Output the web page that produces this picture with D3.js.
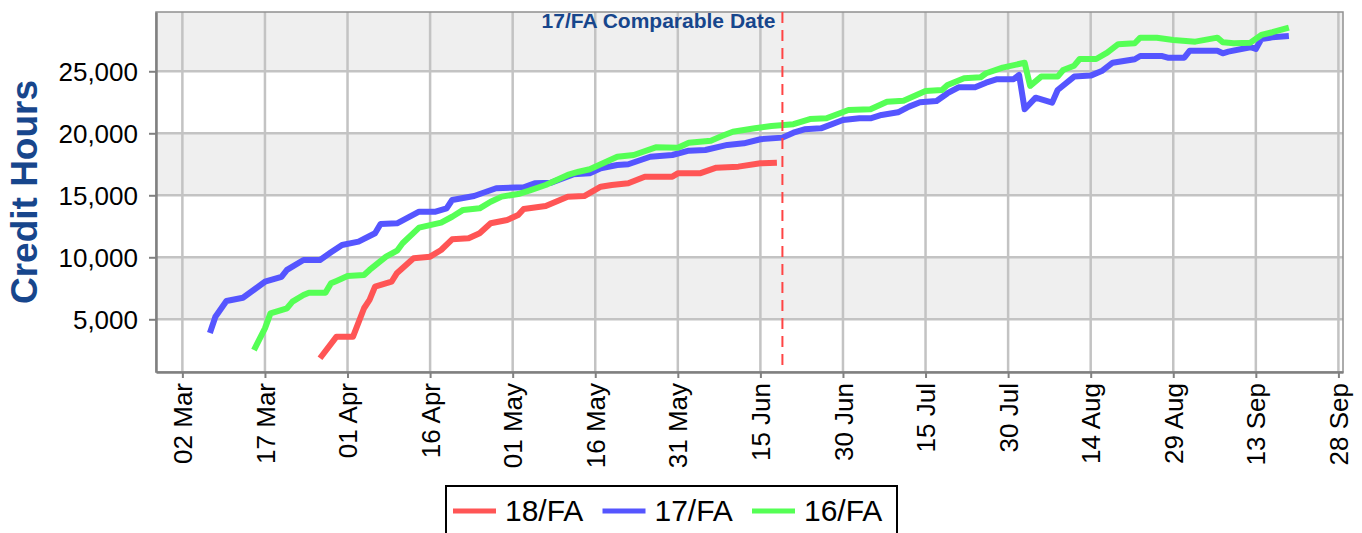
<!DOCTYPE html>
<html><head><meta charset="utf-8">
<script src="https://cdn.jsdelivr.net/npm/d3@7"></script>
<style>
html,body{margin:0;padding:0;background:#fff;}
svg{display:block;font-family:"Liberation Sans",Arial,sans-serif;}
</style></head>
<body><svg id="c" width="1362" height="533"></svg>
<script>
// ---- data ----
const seriesNames = ["18/FA", "17/FA", "16/FA"];
const seriesColors = ["#ff5555", "#5555ff", "#55ff55"];

const dates18 = ["03-27","03-30","04-02","04-04","04-05","04-06","04-09","04-10","04-13","04-16","04-18","04-20","04-23","04-25","04-27","04-30","05-02","05-03","05-07","05-11","05-14","05-17","05-19","05-22","05-25","05-30","05-31","06-04","06-07","06-11","06-15","06-18"];
const values18 = [1860,3600,3600,5890,6560,7630,8030,8740,9920,10050,10590,11450,11530,11940,12740,13010,13410,13900,14140,14890,14940,15690,15830,15970,16500,16500,16770,16770,17230,17310,17580,17630];

const dates17 = ["03-07","03-08","03-10","03-13","03-17","03-20","03-21","03-24","03-27","03-29","03-31","04-03","04-06","04-07","04-10","04-14","04-17","04-19","04-20","04-24","04-28","05-03","05-05","05-08","05-12","05-15","05-17","05-20","05-22","05-26","05-30","06-02","06-05","06-09","06-12","06-15","06-19","06-21","06-23","06-26","06-30","07-03","07-05","07-07","07-10","07-12","07-14","07-17","07-19","07-21","07-24","07-26","07-28","07-31","08-01","08-02","08-04","08-07","08-08","08-11","08-14","08-16","08-18","08-22","08-23","08-27","08-28","08-31","09-01","09-06","09-07","09-08","09-12","09-13","09-14","09-16","09-19"];
const values17 = [3900,5210,6480,6740,8030,8430,8980,9780,9780,10400,10990,11260,11940,12690,12740,13680,13680,13950,14620,14940,15570,15650,15970,16020,16690,16770,17180,17440,17500,18110,18250,18600,18650,19060,19190,19520,19650,20050,20320,20400,21070,21210,21210,21480,21690,22150,22500,22600,23230,23710,23710,24080,24360,24360,24700,21940,22870,22470,23490,24570,24650,25020,25690,25970,26230,26230,26100,26100,26660,26660,26450,26580,26940,26800,27600,27740,27850];

const dates16 = ["03-15","03-17","03-18","03-21","03-22","03-24","03-25","03-28","03-29","03-30","04-01","04-04","04-05","04-08","04-10","04-11","04-14","04-18","04-20","04-22","04-25","04-27","04-29","05-02","05-04","05-07","05-11","05-13","05-15","05-18","05-20","05-23","05-27","05-31","06-02","06-06","06-08","06-10","06-14","06-17","06-21","06-24","06-27","07-01","07-05","07-08","07-11","07-15","07-18","07-19","07-22","07-25","07-26","07-29","08-02","08-03","08-05","08-08","08-09","08-11","08-12","08-15","08-17","08-19","08-22","08-23","08-26","08-29","09-02","09-06","09-07","09-09","09-12","09-14","09-16","09-19"];
const values16 = [2520,4270,5480,5890,6420,6960,7150,7150,7900,8090,8490,8570,8980,10050,10530,11130,12390,12790,13270,13820,13950,14480,14890,15100,15370,15830,16640,16900,17100,17710,18110,18250,18870,18840,19240,19400,19780,20130,20400,20590,20730,21150,21210,21880,21940,22550,22630,23410,23490,23900,24440,24520,24840,25290,25690,23820,24570,24570,25100,25450,25990,25990,26500,27180,27260,27710,27710,27520,27390,27710,27340,27260,27310,27930,28150,28520];

const xTickDates = ["03-02","03-17","04-01","04-16","05-01","05-16","05-31","06-15","06-30","07-15","07-30","08-14","08-29","09-13","09-28"];
const yTickValues = [5000,10000,15000,20000,25000];
const comparableDate = "06-19";
const comparableLabel = "17/FA Comparable Date";
const yTitle = "Credit Hours";

// ---- layout ----
const W = 1362, H = 533;
const M = {left:156, top:12, right:19, bottom:161};
const pw = W - M.left - M.right, ph = H - M.top - M.bottom;
const parse = s => d3.timeParse("%Y-%m-%d %H:%M")("2018-" + s + (s.length === 5 ? " 00:00" : ""));
const pd = s => d3.timeParse("%Y-%m-%d")("2018-" + s);

const x = d3.scaleTime()
  .domain([parse("02-25 05:00"), parse("09-28 20:00")])
  .range([0, pw]);
const y = d3.scaleLinear().domain([750, 29780]).range([ph, 0]);

const svg = d3.select("#c");
const g = svg.append("g").attr("transform", `translate(${M.left},${M.top})`);

// alternating bands
const bandEdges = [y.domain()[0], ...yTickValues, y.domain()[1]];
for (let i = 0; i < bandEdges.length - 1; i++) {
  const grey = (bandEdges.length - 2 - i) % 2 === 0;
  if (!grey) continue;
  g.append("rect").attr("x", 0).attr("width", pw)
    .attr("y", y(bandEdges[i + 1])).attr("height", y(bandEdges[i]) - y(bandEdges[i + 1]))
    .attr("fill", "#efefef");
}

// grid
const xt = xTickDates.map(pd);
g.append("g").selectAll("line").data(xt).join("line")
  .attr("x1", d => x(d)).attr("x2", d => x(d)).attr("y1", 0).attr("y2", ph)
  .attr("stroke", "#c3c3c3").attr("stroke-width", 2.5);
g.append("g").selectAll("line").data(yTickValues).join("line")
  .attr("x1", 0).attr("x2", pw).attr("y1", d => y(d)).attr("y2", d => y(d))
  .attr("stroke", "#c3c3c3").attr("stroke-width", 2.5);

// frame (top/right)
g.append("rect").attr("x", 0).attr("y", 0).attr("width", pw).attr("height", ph)
  .attr("fill", "none").attr("stroke", "#909090").attr("stroke-width", 1.5);

// axes
const xAxis = d3.axisBottom(x).tickValues(xt).tickFormat(d3.timeFormat("%d %b")).tickSize(6).tickSizeOuter(0);
const gx = g.append("g").attr("transform", `translate(0,${ph})`).call(xAxis);
gx.select(".domain").attr("stroke", "#808080").attr("stroke-width", 2.5);
gx.selectAll(".tick line").attr("stroke", "#808080").attr("stroke-width", 2);
gx.selectAll(".tick text")
  .attr("font-size", 26).attr("fill", "#000")
  .attr("text-anchor", "end")
  .attr("transform", "rotate(-90)")
  .attr("x", -11).attr("y", 0).attr("dy", "0.35em");

const yAxis = d3.axisLeft(y).tickValues(yTickValues).tickFormat(d3.format(",")).tickSize(7).tickSizeOuter(0);
const gy = g.append("g").call(yAxis);
gy.select(".domain").attr("stroke", "#808080").attr("stroke-width", 2.5);
gy.selectAll(".tick line").attr("stroke", "#808080").attr("stroke-width", 2);
gy.selectAll(".tick text").attr("font-size", 26).attr("fill", "#000").attr("x", -18).attr("dy", "0.35em");

// lines
const line = d3.line().x(d => x(d.date)).y(d => y(d.value));
const seriesData = [
  dates18.map((d, i) => ({date: pd(d), value: values18[i]})),
  dates17.map((d, i) => ({date: pd(d), value: values17[i]})),
  dates16.map((d, i) => ({date: pd(d), value: values16[i]}))
];
seriesData.forEach((s, i) => {
  g.append("path").datum(s).attr("d", line)
    .attr("fill", "none").attr("stroke", seriesColors[i]).attr("stroke-width", 6)
    .attr("stroke-linejoin", "round");
});

// comparable date marker
const cx = x(pd(comparableDate));
g.append("line").attr("x1", cx).attr("x2", cx).attr("y1", 0).attr("y2", ph)
  .attr("stroke", "#ff4444").attr("stroke-width", 2).attr("stroke-dasharray", "11,7");
g.append("text").attr("x", cx - 7).attr("y", 16).attr("text-anchor", "end")
  .attr("font-size", 21).attr("font-weight", "bold").attr("fill", "#17468c")
  .text(comparableLabel);

// y title
svg.append("text").attr("transform", `translate(37,${M.top + ph / 2}) rotate(-90)`)
  .attr("text-anchor", "middle").attr("font-size", 37).attr("font-weight", "bold")
  .attr("fill", "#17468c").text(yTitle);

// legend
const lg = svg.append("g").attr("transform", "translate(446,486)");
lg.append("rect").attr("x", 0).attr("y", 0).attr("width", 451).attr("height", 60)
  .attr("fill", "#fff").attr("stroke", "#000").attr("stroke-width", 2);
seriesNames.forEach((n, i) => {
  const ox = 7 + i * 149.5;
  lg.append("line").attr("x1", ox).attr("x2", ox + 43).attr("y1", 25).attr("y2", 25)
    .attr("stroke", seriesColors[i]).attr("stroke-width", 5);
  lg.append("text").attr("x", ox + 52).attr("y", 35).attr("font-size", 30).attr("fill", "#000").text(n);
});
</script>
</body></html>
